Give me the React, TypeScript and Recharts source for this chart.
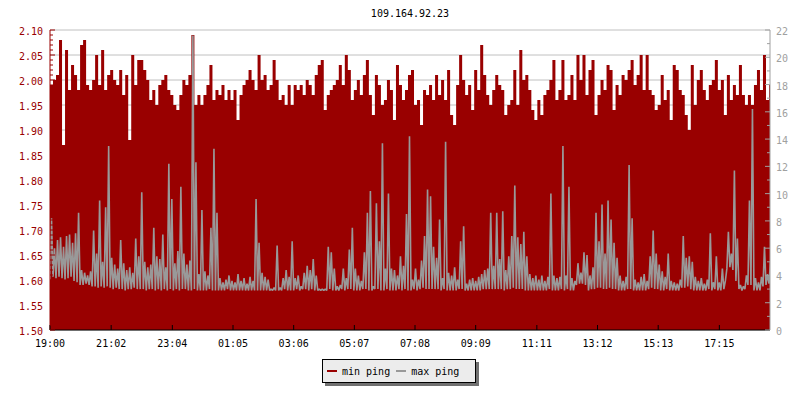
import React from 'react';
import { ComposedChart, Area, Line, XAxis, YAxis, CartesianGrid } from 'recharts';

const RED = '#990000';
const GRAY = '#999999';
const AXIS_GRAY = '#a0a0a0';
const MONO = '"DejaVu Sans Mono", monospace';

const title = '109.164.92.23';

// x axis: minutes after 19:00, one bucket every 6 minutes
const timeLabels = ['19:00', '21:02', '23:04', '01:05', '03:06', '05:07', '07:08', '09:09', '11:11', '13:12', '15:13', '17:15'];
const timeTicks = [0, 122, 244, 365, 486, 607, 728, 849, 971, 1092, 1213, 1335];
const STEP = 6;
const SPAN = 1436;

const leftLabels = ['1.50', '1.55', '1.60', '1.65', '1.70', '1.75', '1.80', '1.85', '1.90', '1.95', '2.00', '2.05', '2.10'];
const rightLabels = ['0', '2', '4', '6', '8', '10', '12', '14', '16', '18', '20', '22'];

// min ping (left axis)
const minPing = [
  1.99, 2.00, 2.01, 2.08, 1.87, 2.06, 1.98, 2.03, 2.01, 1.98,
  2.07, 2.08, 1.99, 1.98, 2.00, 2.05, 1.99, 2.06, 1.98, 2.01,
  2.02, 2.00, 1.99, 2.02, 1.97, 2.01, 1.88, 2.05, 1.99, 2.04,
  2.04, 2.02, 2.00, 1.96, 1.98, 1.95, 1.99, 2.00, 2.01, 1.98,
  1.97, 1.95, 1.94, 1.97, 2.00, 1.99, 2.01, 2.09, 1.95, 1.97,
  1.95, 1.97, 1.99, 2.03, 1.96, 1.98, 1.97, 1.99, 1.96, 1.98,
  1.96, 1.98, 1.92, 1.97, 1.99, 2.00, 2.02, 2.00, 1.98, 2.05,
  2.00, 2.01, 1.98, 1.99, 2.04, 2.00, 1.96, 1.97, 1.95, 1.99,
  1.95, 1.99, 1.98, 1.99, 1.97, 2.00, 1.99, 1.97, 2.01, 2.03,
  2.04, 1.94, 1.97, 1.98, 1.99, 2.00, 2.03, 1.99, 2.05, 2.02,
  1.96, 1.98, 2.00, 1.97, 2.01, 2.04, 1.97, 1.93, 2.01, 1.99,
  1.95, 1.96, 2.00, 1.98, 1.92, 2.03, 1.99, 1.96, 1.98, 2.01,
  2.02, 1.95, 1.96, 1.91, 1.98, 1.97, 1.99, 1.96, 2.01, 1.97,
  2.00, 1.96, 2.02, 1.93, 1.91, 1.99, 2.05, 2.00, 1.97, 1.99,
  1.94, 2.02, 1.98, 2.07, 2.01, 1.97, 1.95, 1.98, 2.01, 1.99,
  1.98, 1.93, 1.95, 1.96, 2.02, 1.95, 2.06, 2.00, 2.01, 1.98,
  1.94, 1.92, 1.96, 1.93, 1.97, 1.98, 2.00, 2.04, 1.96, 1.98,
  2.04, 1.96, 1.97, 2.01, 1.96, 2.05, 2.00, 2.05, 1.97, 2.02,
  2.04, 1.93, 1.97, 2.00, 1.98, 2.03, 2.02, 1.94, 1.99, 1.97,
  2.01, 2.00, 2.02, 2.04, 1.99, 2.01, 2.05, 1.98, 2.05, 1.98,
  1.97, 1.94, 1.95, 2.01, 1.96, 1.98, 1.92, 2.03, 2.02, 1.98,
  1.97, 1.93, 1.90, 2.03, 1.95, 2.00, 2.02, 1.98, 1.96, 1.99,
  2.00, 2.04, 1.98, 2.00, 1.93, 2.01, 1.96, 1.99, 1.97, 2.03,
  1.97, 1.95, 1.97, 1.95, 1.99, 2.02, 1.98, 2.05, 1.96, 1.99,
];

// max ping (right axis): highest and lowest sample in each bucket
const maxPingHigh = [
  8.2, 6.0, 6.6, 6.8, 6.1, 6.9, 7.0, 6.4, 7.1, 8.6,
  4.4, 4.2, 4.0, 4.3, 7.3, 5.6, 9.5, 5.0, 9.0, 13.5,
  5.3, 4.8, 4.5, 6.6, 4.9, 4.4, 4.6, 4.2, 6.7, 5.4,
  10.1, 5.0, 4.6, 4.8, 7.5, 5.4, 5.2, 7.0, 4.6, 12.2,
  9.6, 4.9, 5.8, 10.5, 5.6, 4.8, 5.1, 21.6, 12.3, 4.1,
  8.8, 4.3, 4.0, 7.5, 13.3, 8.6, 3.8, 3.5, 3.7, 4.0,
  3.6, 3.5, 4.1, 3.6, 3.8, 3.4, 3.9, 3.6, 9.6, 6.4,
  4.2, 3.9, 3.7, 3.0, 3.1, 6.2, 3.1, 3.8, 4.4, 3.9,
  6.5, 3.8, 4.0, 3.2, 4.2, 4.7, 4.4, 5.2, 4.0, 3.0,
  3.0, 3.0, 6.1, 5.7, 4.5, 3.2, 3.3, 4.5, 3.8, 5.9,
  7.5, 4.5, 4.0, 3.6, 5.7, 8.6, 10.2, 3.2, 9.3, 6.5,
  13.7, 4.5, 10.0, 4.5, 4.4, 4.0, 5.4, 4.7, 8.5, 14.2,
  3.7, 4.5, 3.7, 5.1, 6.9, 10.3, 9.8, 6.1, 5.3, 8.1,
  3.8, 13.8, 4.2, 4.0, 4.6, 3.7, 6.5, 7.6, 3.4, 3.7,
  3.8, 3.6, 3.9, 4.1, 4.4, 4.5, 8.6, 4.7, 8.6, 5.2,
  8.7, 4.4, 5.4, 6.9, 10.6, 6.8, 6.3, 7.2, 5.4, 4.1,
  3.8, 4.0, 3.7, 4.0, 3.6, 3.9, 10.0, 4.0, 3.8, 3.9,
  13.5, 4.0, 10.5, 3.8, 3.6, 4.9, 4.2, 5.7, 5.5, 4.0,
  4.6, 8.6, 6.5, 9.2, 5.6, 9.5, 8.1, 6.4, 5.3, 4.0,
  3.6, 3.9, 12.1, 8.2, 3.7, 3.5, 3.9, 4.1, 3.6, 5.4,
  7.3, 5.6, 4.8, 4.3, 3.9, 5.6, 3.6, 3.5, 3.4, 3.7,
  6.9, 5.3, 5.4, 5.0, 3.9, 3.6, 3.8, 3.4, 3.7, 7.1,
  3.5, 5.4, 3.5, 4.5, 3.6, 7.2, 5.6, 11.7, 6.7, 3.3,
  3.2, 4.0, 9.5, 16.2, 3.8, 3.5, 3.9, 6.1, 4.1, 5.0,
];

const maxPingLow = [
  3.7, 3.9, 3.8, 3.9, 3.8, 3.7, 3.8, 3.9, 3.6, 3.5,
  3.3, 3.3, 3.4, 3.3, 3.2, 3.2, 3.1, 3.2, 3.1, 3.2,
  3.1, 3.0, 3.1, 3.0, 3.0, 2.9, 3.0, 3.0, 3.1, 3.0,
  3.0, 3.0, 2.9, 3.0, 3.0, 2.9, 3.0, 2.9, 3.0, 2.9,
  3.0, 2.9, 3.0, 2.9, 3.0, 3.0, 2.9, 2.9, 3.0, 2.9,
  2.9, 2.9, 2.9, 3.0, 2.9, 2.9, 2.9, 2.9, 2.9, 3.0,
  2.9, 2.9, 2.9, 2.9, 2.9, 2.9, 2.9, 2.9, 2.9, 2.9,
  2.9, 2.9, 2.9, 2.9, 2.9, 2.9, 2.9, 2.9, 3.0, 2.9,
  2.9, 2.9, 3.0, 2.9, 3.0, 3.0, 2.9, 3.0, 2.9, 2.9,
  2.9, 2.9, 2.9, 3.0, 2.9, 2.9, 2.9, 3.0, 2.9, 3.0,
  3.0, 2.9, 2.9, 2.9, 3.0, 3.0, 2.9, 2.9, 3.0, 3.0,
  2.9, 2.9, 3.0, 2.9, 2.9, 2.9, 3.0, 2.9, 3.0, 2.9,
  2.9, 3.0, 2.9, 3.0, 3.1, 3.0, 3.0, 3.0, 3.0, 3.0,
  2.9, 3.0, 2.9, 2.9, 2.9, 2.9, 3.0, 3.0, 2.9, 2.9,
  2.9, 2.9, 2.9, 2.9, 3.0, 3.0, 3.0, 3.0, 3.0, 3.0,
  3.0, 2.9, 3.0, 3.0, 3.1, 3.0, 3.0, 3.0, 2.9, 2.9,
  2.9, 2.9, 2.9, 2.9, 2.9, 2.9, 3.0, 2.9, 2.9, 2.9,
  3.0, 2.9, 3.0, 2.9, 2.9, 3.3, 3.4, 3.4, 3.3, 2.9,
  3.0, 3.0, 3.1, 3.1, 3.0, 3.0, 3.1, 3.0, 3.0, 2.9,
  2.9, 2.9, 3.0, 3.0, 2.9, 2.9, 2.9, 2.9, 2.9, 3.0,
  3.1, 3.0, 3.0, 2.9, 2.9, 3.0, 2.9, 2.9, 2.9, 2.9,
  3.1, 3.1, 3.2, 3.0, 2.9, 2.9, 2.9, 2.9, 2.9, 3.0,
  2.9, 3.0, 2.9, 2.9, 3.0, 4.5, 4.6, 4.4, 3.6, 3.0,
  2.9, 3.0, 3.3, 3.3, 2.9, 2.9, 2.9, 3.2, 3.3, 3.4,
];

// each bucket: low sample at its start, high sample half way through
const data: any[] = [];
minPing.forEach((v, i) => {
  data.push({ t: i * STEP, min: v, max: maxPingLow[i] });
  data.push({ t: i * STEP + STEP / 2, max: maxPingHigh[i] });
});
// close the last step at the right edge
data.push({ t: SPAN, min: minPing[minPing.length - 1] });

const leftMajor = leftLabels.map(Number);
const leftTicks = Array.from({ length: 61 }, (_, i) => (150 + i) / 100);
const rightTicks = Array.from({ length: 23 }, (_, i) => i);

const LeftTick = ({ x, y, payload }: any) => {
  const idx = leftMajor.findIndex((m) => Math.abs(m - payload.value) < 1e-6);
  const major = idx >= 0;
  return (
    <g>
      <line x1={x} x2={x + (major ? 5 : 3)} y1={y} y2={y} stroke={RED} />
      {major && (
        <text x={x - 7} y={y + 5} textAnchor="end" fill={RED} fontSize={10} fontFamily={MONO}>
          {leftLabels[idx]}
        </text>
      )}
    </g>
  );
};

const RightTick = ({ x, y, payload }: any) => {
  const major = payload.value % 2 === 0;
  return (
    <g>
      <line x1={x} x2={x - (major ? 5 : 3)} y1={y} y2={y} stroke={AXIS_GRAY} />
      {major && (
        <text x={x + 6} y={y + 5} textAnchor="start" fill={AXIS_GRAY} fontSize={10} fontFamily={MONO}>
          {rightLabels[payload.value / 2]}
        </text>
      )}
    </g>
  );
};

const TimeTick = ({ x, y, payload }: any) => {
  const idx = timeTicks.indexOf(payload.value);
  return (
    <g>
      <line x1={x} x2={x} y1={y} y2={y - 5} stroke="#000" />
      <text x={x} y={y + 17} textAnchor="middle" fill="#000" fontSize={10} fontFamily={MONO}>
        {timeLabels[idx]}
      </text>
    </g>
  );
};

const Swatch = ({ color }: { color: string }) => (
  <span style={{ display: 'inline-block', width: 10, height: 2, background: color, marginRight: 5 }} />
);

export default function App() {
  return (
    <div style={{ position: 'absolute', left: 0, top: 0, width: 800, height: 400, background: '#fff', fontFamily: MONO }}>
      <div
        style={{
          position: 'absolute', left: 10, top: 8, width: 800, textAlign: 'center',
          fontSize: 10, lineHeight: '12px', color: '#000',
        }}
      >
        {title}
      </div>
      <ComposedChart width={800} height={400} data={data} margin={{ top: 30, right: 0, bottom: 40, left: 0 }}>
        <CartesianGrid
          yAxisId="left"
          vertical={false}
          horizontalValues={leftMajor}
          stroke="#c0c0c0"
        />
        <XAxis
          dataKey="t"
          type="number"
          domain={[0, SPAN]}
          allowDataOverflow
          ticks={timeTicks}
          interval={0}
          tickSize={0}
          tickMargin={0}
          tickLine={false}
          height={30}
          axisLine={{ stroke: '#000' }}
          tick={<TimeTick />}
        />
        <YAxis
          yAxisId="left"
          orientation="left"
          type="number"
          domain={[1.5, 2.1]}
          allowDataOverflow
          ticks={leftTicks}
          interval={0}
          width={50}
          tickSize={0}
          tickMargin={0}
          tickLine={false}
          axisLine={{ stroke: RED }}
          tick={<LeftTick />}
        />
        <YAxis
          yAxisId="right"
          orientation="right"
          type="number"
          domain={[0, 22]}
          allowDataOverflow
          ticks={rightTicks}
          interval={0}
          width={30}
          tickSize={0}
          tickMargin={0}
          tickLine={false}
          axisLine={{ stroke: AXIS_GRAY }}
          tick={<RightTick />}
        />
        <Area
          yAxisId="left"
          type="stepAfter"
          dataKey="min"
          baseValue={1.5}
          connectNulls
          fill={RED}
          fillOpacity={1}
          stroke="none"
          isAnimationActive={false}
          activeDot={false}
        />
        <Line
          yAxisId="right"
          type="linear"
          dataKey="max"
          stroke={GRAY}
          strokeWidth={1.6}
          strokeLinejoin="bevel"
          dot={false}
          activeDot={false}
          isAnimationActive={false}
        />
      </ComposedChart>
      <div
        style={{
          position: 'absolute', left: 322, top: 359, width: 154, height: 24, boxSizing: 'border-box',
          border: '1px solid #000', background: '#ececec', boxShadow: '3px 3px 0 #707070',
          display: 'flex', alignItems: 'center', paddingLeft: 4, fontSize: 10, color: '#000',
          whiteSpace: 'pre',
        }}
      >
        <Swatch color={RED} />
        <span>min ping</span>
        <span style={{ width: 6 }} />
        <Swatch color={GRAY} />
        <span>max ping</span>
      </div>
    </div>
  );
}
